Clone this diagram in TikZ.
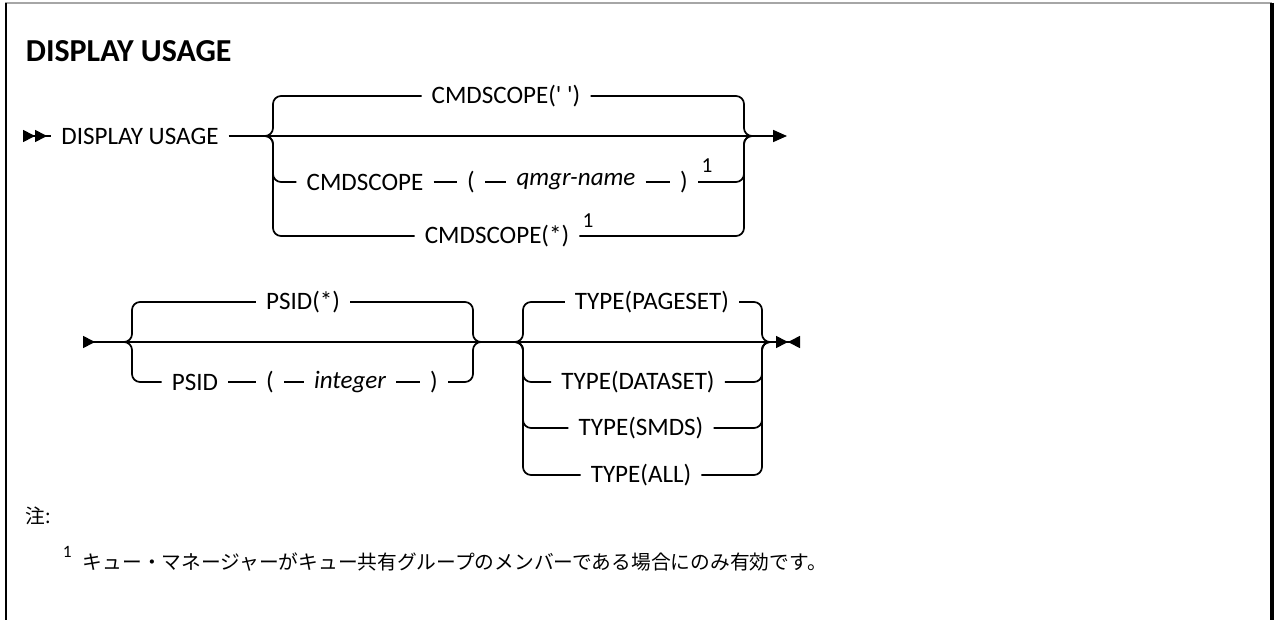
\documentclass[tikz,border=0pt]{standalone}
\usepackage{fontspec}
\setmainfont{Carlito}
\newfontfamily\jpfont{Noto Sans CJK JP}
\usetikzlibrary{arrows.meta}

\begin{document}
\begin{tikzpicture}[x=0.75pt,y=-0.75pt,line width=1.3pt,
  kw/.style={font=\fontsize{18.8}{21}\selectfont,inner xsep=7pt,inner ysep=1pt},
  var/.style={kw,font=\fontsize{18.8}{21}\selectfont\itshape},
  fn/.style={font=\fontsize{16}{18}\selectfont,inner sep=0pt},
  jp/.style={font=\jpfont\fontsize{14.8}{17}\selectfont,inner sep=0pt,anchor=west},
  rail/.style={rounded corners=6pt},
  tri/.tip={Triangle[length=9pt,width=9pt]},
  rtri/.tip={Triangle[length=9pt,width=9pt,reversed]}]
\useasboundingbox(0,0)rectangle(1274,620);
% frame
\draw[gray!70,line width=1.5pt](5,3)--(1272,3);
\draw[line width=2pt](6,3)--(6,620);\draw[line width=2.5pt](1272,3)--(1272,620);
\node[anchor=west,inner sep=0pt,font=\fontsize{24}{27}\selectfont\bfseries](title)at(25,51){DISPLAY USAGE};
% first line
\coordinate(s1)at(23,136);\coordinate(j1)at(263,136);\coordinate(b1l)at(273,136);
\coordinate(b1r)at(744,136);\coordinate(j2)at(754,136);\coordinate(e1)at(787,136);
\node[kw](du)at(140,136){DISPLAY USAGE};
\node[kw](c1)at(506,96){CMDSCOPE(\textquotesingle\ \textquotesingle)};
\node[kw](c2)at(365,182){CMDSCOPE};\node[kw](lp1)at(471,182){(};
\node[var](qn)at(576,182){qmgr-name};\node[kw](rp1)at(684,182){)};
\node[fn](f1)at(707,166){1};
\node[kw](c3)at(497,236){CMDSCOPE(*)};\node[fn](f2)at(588,221){1};
\draw[{rtri[]rtri[]}-](s1)--(du);
\draw(du)--(j1)--(j2);
\draw[-{Triangle[length=10.5pt,width=9pt]}](j2)--(e1);
\draw[rail](j1)-|(b1l|-c1)--(c1)-|(b1r)--(j2);
\draw[rail](j1)-|(b1l|-c2)--(c2);
\draw(c2)--(lp1)--(qn)--(rp1);
\draw[rail](rp1)-|(b1r)--(j2);
\draw[rail](j1)-|(b1l|-c3)--(c3)-|(b1r)--(j2);
% second line
\coordinate(s2)at(83,342);\coordinate(j3)at(124,342);\coordinate(b2l)at(132,342);
\coordinate(b2r)at(473,342);\coordinate(j4)at(481,342);\coordinate(j5)at(515,342);
\coordinate(b3l)at(523,342);\coordinate(b3r)at(762,342);\coordinate(j6)at(770,342);
\coordinate(e2)at(800,342);
\node[kw](p1)at(303,302){PSID(*)};
\node[kw](p2)at(195,382){PSID};\node[kw](lp2)at(270,382){(};
\node[var](ig)at(350,382){integer};\node[kw](rp2)at(434,382){)};
\draw[{rtri[]}-](s2)--(j3);
\draw(j3)--(j4)--(j5)--(j6);
\draw[rail](j3)-|(b2l|-p1)--(p1)-|(b2r)--(j4);
\draw[rail](j3)-|(b2l|-p2)--(p2);
\draw(p2)--(lp2)--(ig)--(rp2);
\draw[rail](rp2)-|(b2r)--(j4);
\foreach\n/\x/\y/\t in{t1/652/302/PAGESET,t2/638/382/DATASET,t3/641/428/SMDS,t4/641/475/ALL}{
  \node[kw](\n)at(\x,\y){TYPE(\t)};
  \draw[rail](j5)-|(b3l|-\n)--(\n)-|(b3r)--(j6);}
\draw[-{tri[]rtri[]}](j6)--(e2);
% notes
\node[jp](nt)at(25,516){注:};
\node[anchor=west,inner sep=0pt,font=\fontsize{13}{15}\selectfont](n1)at(62,552){1};
\node[jp](ft)at(82,562){キュー・マネージャーがキュー共有グループのメンバーである場合にのみ有効です。};
\end{tikzpicture}
\end{document}
